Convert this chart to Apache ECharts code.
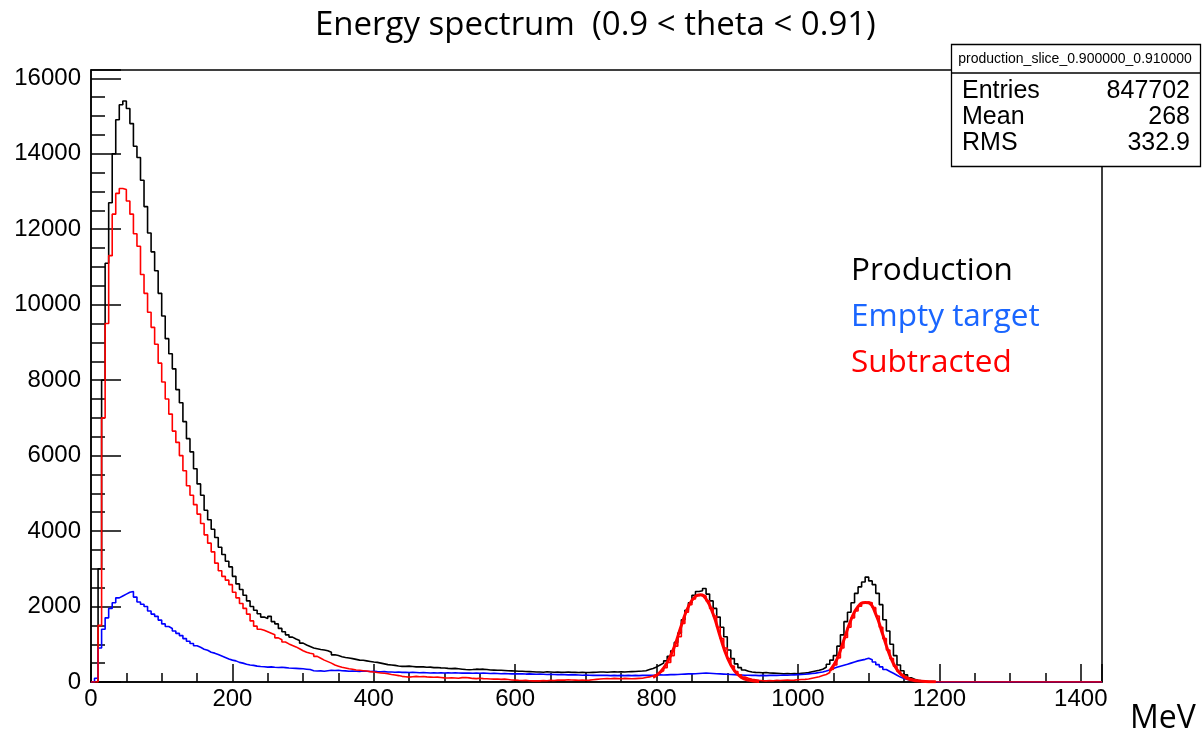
<!DOCTYPE html>
<html>
<head>
<meta charset="utf-8">
<script src="https://cdn.jsdelivr.net/npm/echarts@6/dist/echarts.min.js"></script>
<style>
  html, body { margin: 0; padding: 0; background: #fff; }
  #chart { width: 1203px; height: 736px; }
</style>
</head>
<body>
<div id="chart"></div>
<script>
// histogram: 5 MeV bins, low edges 0..1195, then empty up to 1430
var binWidth = 5;
var xMax = 1430;

// Production (black)
var production = [
  0, 0, 3000, 8000, 11100, 12700, 14000, 14900, 15300, 15400, 15200, 14800, 14200, 13900, 13300, 12600, 11900, 11400, 10900, 10300,
  9700, 9100, 8700, 8300, 7750, 7400, 6900, 6450, 6100, 5650, 5250, 4950, 4550, 4300, 4050, 3830, 3570, 3380, 3200, 3050,
  2800, 2600, 2450, 2300, 2150, 2000, 1900, 1810, 1720, 1680, 1740, 1600, 1540, 1420, 1330, 1250, 1190, 1140, 1100, 1030,
  980, 940, 900, 880, 860, 850, 830, 790, 720, 700, 670, 650, 635, 620, 600, 580, 575, 560, 545, 530,
  520, 500, 480, 460, 450, 440, 425, 415, 415, 420, 410, 400, 405, 400, 390, 395, 380, 385, 375, 370,
  360, 355, 360, 350, 340, 330, 325, 330, 340, 335, 340, 330, 320, 315, 310, 310, 305, 300, 295, 290,
  285, 285, 280, 275, 270, 265, 265, 260, 270, 265, 260, 265, 255, 260, 265, 260, 255, 250, 255, 250,
  250, 255, 260, 265, 265, 260, 265, 270, 265, 270, 265, 270, 275, 280, 285, 290, 300, 330, 360, 400,
  450, 500, 560, 680, 830, 1050, 1300, 1650, 1900, 2100, 2300, 2400, 2420, 2480, 2330, 2150, 1950, 1720, 1450, 1200,
  850, 620, 480, 380, 320, 285, 265, 255, 250, 245, 250, 240, 235, 230, 225, 220, 225, 220, 225, 220,
  230, 240, 250, 270, 290, 310, 340, 390, 470, 580, 700, 950, 1250, 1600, 1850, 2100, 2350, 2520, 2650, 2780,
  2680, 2580, 2350, 2050, 1650, 1350, 1000, 700, 450, 300, 190, 110, 70, 45, 30, 20, 15, 10, 5, 0
];

// Empty target (blue)
var emptyTarget = [
  0, 100, 900, 1400, 1700, 1950, 2100, 2230, 2280, 2330, 2380, 2400, 2250, 2120, 2060, 2000, 1880, 1800, 1740, 1640,
  1540, 1470, 1420, 1350, 1290, 1230, 1150, 1080, 1020, 960, 920, 870, 840, 790, 765, 730, 690, 650, 610, 580,
  560, 520, 500, 470, 450, 440, 420, 410, 405, 395, 400, 390, 385, 390, 380, 370, 365, 360, 355, 350,
  340, 330, 300, 290, 295, 285, 300, 310, 305, 310, 300, 295, 285, 290, 285, 280, 290, 285, 280, 285,
  275, 270, 275, 265, 265, 260, 265, 255, 260, 250, 255, 250, 245, 250, 245, 240, 245, 240, 245, 240,
  245, 240, 245, 240, 235, 240, 235, 230, 235, 230, 235, 230, 225, 230, 225, 220, 225, 220, 215, 220,
  215, 220, 210, 215, 210, 205, 210, 205, 200, 205, 200, 195, 200, 195, 190, 195, 190, 185, 180, 185,
  180, 175, 180, 175, 180, 175, 170, 175, 170, 175, 170, 175, 170, 175, 170, 175, 180, 175, 180, 185,
  190, 185, 190, 195, 195, 200, 205, 210, 215, 215, 220, 225, 230, 235, 230, 225, 220, 215, 210, 205,
  200, 195, 190, 185, 180, 180, 175, 175, 170, 175, 170, 175, 180, 175, 180, 185, 180, 185, 190, 195,
  200, 205, 215, 225, 235, 250, 265, 290, 320, 355, 390, 420, 445, 470, 500, 530, 560, 580, 600, 630,
  590, 530, 460, 400, 330, 280, 230, 180, 130, 95, 70, 50, 35, 25, 15, 10, 5, 3, 0, 0
];

// Subtracted (red)
var subtracted = [
  0, 0, 1500, 7000, 9500, 11300, 12400, 12950, 13080, 13050, 12750, 12400, 11880, 11550, 10800, 10300, 9800, 9400, 8950, 8450,
  7950, 7500, 7100, 6650, 6350, 6000, 5600, 5200, 4950, 4700, 4450, 4200, 3900, 3680, 3450, 3150, 2950, 2800, 2700, 2580,
  2380, 2230, 2080, 1950, 1800, 1620, 1480, 1400, 1370, 1330, 1290, 1250, 1170, 1120, 1060, 1010, 970, 930, 880, 830,
  790, 760, 740, 680, 630, 580, 540, 500, 450, 420, 390, 370, 350, 340, 320, 310, 300, 290, 275, 265,
  250, 240, 230, 220, 200, 185, 170, 150, 140, 130, 140, 150, 140, 145, 135, 130, 125, 130, 120, 110,
  105, 110, 105, 100, 115, 120, 110, 95, 90, 100, 90, 85, 80, 75, 80, 70, 75, 65, 55, 50,
  45, 40, 45, 35, 30, 35, 30, 40, 35, 45, 40, 50, 55, 50, 60, 55, 50, 45, 50, 45,
  50, 60, 70, 80, 85, 90, 85, 95, 90, 85, 95, 90, 85, 90, 95, 100, 120, 135, 160, 200,
  250, 300, 380, 520, 700, 950, 1200, 1550, 1850, 2050, 2200, 2290, 2310, 2280, 2150, 1950, 1750, 1450, 1150, 900,
  620, 420, 280, 190, 130, 100, 75, 60, 45, 35, 30, 40, 35, 45, 40, 45, 50, 45, 50, 60,
  65, 70, 80, 100, 120, 140, 170, 200, 250, 330, 450, 640, 900, 1180, 1450, 1700, 1880, 2010, 2090, 2120,
  2100, 1970, 1750, 1450, 1150, 850, 620, 420, 280, 190, 130, 80, 55, 35, 25, 15, 10, 8, 5, 0
];

// peak fits drawn over the subtracted histogram (energy, counts)
var fitPeak1 = [[795, 120], [805, 260], [815, 520], [825, 930], [835, 1500], [845, 2000], [855, 2270], [862, 2310],
  [870, 2200], [880, 1800], [890, 1200], [900, 650], [910, 300], [920, 120], [930, 50], [945, 15]];
var fitPeak2 = [[1045, 300], [1055, 600], [1065, 1120], [1075, 1650], [1085, 2000], [1095, 2110], [1100, 2100],
  [1110, 1800], [1120, 1250], [1130, 700], [1140, 330], [1150, 140], [1160, 60], [1175, 20], [1195, 5]];

var statsName = "production_slice_0.900000_0.910000";
var statsRows = [["Entries", "847702"], ["Mean", "268"], ["RMS", "332.9"]];
var legendItems = [["Production", "#000000"], ["Empty target", "#1a66ff"], ["Subtracted", "#ff0000"]];

function toSteps(values) {
  var pts = values.map(function (v, i) { return [i * binWidth, v]; });
  pts.push([xMax, 0]);
  return pts;
}

var rootFont = "Liberation Sans";
var textFont = "Open Sans";

function histSeries(name, values, color) {
  return {
    name: name, type: "line", step: "end", data: toSteps(values),
    symbol: "none", animation: false, clip: true,
    lineStyle: { color: color, width: 1.6 }
  };
}

function fitSeries(data) {
  return {
    type: "line", data: data, smooth: true, symbol: "none", animation: false,
    lineStyle: { color: "#ff0000", width: 3 }
  };
}

var axisBase = { type: "value", min: 0, splitLine: { show: false } };

var chart = echarts.init(document.getElementById("chart"));
chart.setOption({
  backgroundColor: "#fff",
  grid: { left: 91, top: 70, right: 101, bottom: 54, show: true, borderColor: "#000", borderWidth: 1.5 },
  xAxis: [
    Object.assign({}, axisBase, {
      max: xMax, interval: 200, position: "bottom",
      axisLine: { show: true, lineStyle: { color: "#000", width: 1.5 } },
      axisTick: { show: true, inside: true, length: 18, lineStyle: { color: "#000", width: 1.5 } },
      axisLabel: {
        color: "#000", fontSize: 24, fontFamily: rootFont, margin: 5,
        formatter: function (v) { return v % 200 === 0 ? String(v) : ""; }
      }
    }),
    Object.assign({}, axisBase, {
      max: xMax, interval: 50, position: "bottom",
      axisLine: { show: false },
      axisTick: { show: true, inside: true, length: 9, lineStyle: { color: "#000", width: 1.5 } },
      axisLabel: { show: false }
    })
  ],
  yAxis: [
    Object.assign({}, axisBase, {
      max: 16220, interval: 2000, position: "left",
      axisLine: { show: true, lineStyle: { color: "#000", width: 1.5 } },
      axisTick: { show: true, inside: true, length: 30, lineStyle: { color: "#000", width: 1.5 } },
      axisLabel: {
        color: "#000", fontSize: 24, fontFamily: rootFont, margin: 10,
        formatter: function (v) { return v % 2000 === 0 ? String(v) : ""; }
      }
    }),
    Object.assign({}, axisBase, {
      max: 16220, interval: 500, position: "left",
      axisLine: { show: false },
      axisTick: { show: true, inside: true, length: 14, lineStyle: { color: "#000", width: 1.5 } },
      axisLabel: { show: false }
    })
  ],
  series: [
    histSeries("Production", production, "#000000"),
    histSeries("Empty target", emptyTarget, "#0000ff"),
    histSeries("Subtracted", subtracted, "#ff0000"),
    fitSeries(fitPeak1),
    fitSeries(fitPeak2)
  ],
  graphic: [
    { type: "text", left: 315, top: 9, z: 10,
      style: { text: "Energy spectrum  (0.9 < theta < 0.91)", font: "33px '" + textFont + "'", fill: "#000" } },
    { type: "text", left: 1130, top: 703, z: 10,
      style: { text: "MeV", font: "32px '" + textFont + "'", fill: "#000" } },
    { type: "group", left: 851, top: 255, z: 10,
      children: legendItems.map(function (it, i) {
        return { type: "text", x: 0, y: i * 46,
          style: { text: it[0], font: "31.5px '" + textFont + "'", fill: it[1] } };
      })
    },
    { type: "rect", z: 20, shape: { x: 951.5, y: 44.5, width: 249, height: 122 },
      style: { fill: "#fff", stroke: "#000", lineWidth: 1.3 } },
    { type: "line", z: 21, shape: { x1: 951.5, y1: 73, x2: 1200.5, y2: 73 },
      style: { stroke: "#000", lineWidth: 1.3 } },
    { type: "text", z: 21, x: 1075, y: 59,
      style: { text: statsName, font: "14px '" + rootFont + "'", fill: "#000", textAlign: "center", textVerticalAlign: "middle" } }
  ].concat(statsRows.map(function (r, i) {
    return { type: "text", z: 21, x: 962, y: 91 + i * 26,
      style: { text: r[0], font: "25px '" + rootFont + "'", fill: "#000", textVerticalAlign: "middle" } };
  })).concat(statsRows.map(function (r, i) {
    return { type: "text", z: 21, x: 1190, y: 91 + i * 26,
      style: { text: r[1], font: "25px '" + rootFont + "'", fill: "#000", textAlign: "right", textVerticalAlign: "middle" } };
  }))
});
</script>
</body>
</html>
